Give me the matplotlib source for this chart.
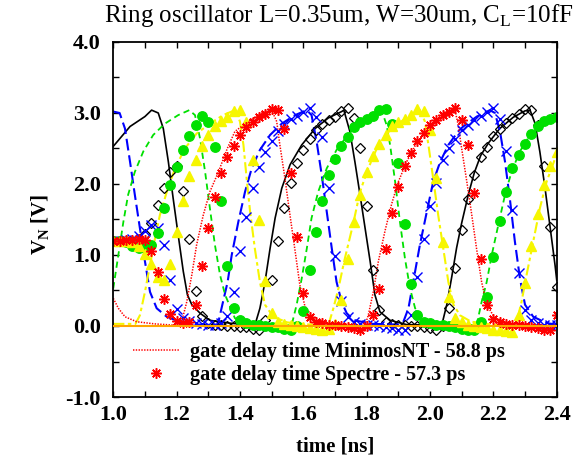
import numpy as np
import matplotlib
matplotlib.use("Agg")
import matplotlib.pyplot as plt
from matplotlib.ticker import MultipleLocator, FormatStrFormatter
from matplotlib.legend_handler import HandlerLine2D

# MinimosNT node voltages (lines)
black_t = [1.000, 1.053, 1.100, 1.121, 1.142, 1.158, 1.174, 1.189, 1.205, 1.221, 1.234, 1.248, 1.274, 1.305,
           1.368, 1.420, 1.447, 1.463, 1.479, 1.495, 1.511, 1.532, 1.558, 1.595, 1.637, 1.679, 1.721, 1.728,
           1.747, 1.763, 1.779, 1.795, 1.811, 1.826, 1.842, 1.874, 1.926, 2.037, 2.053, 2.069, 2.084, 2.100,
           2.121, 2.140, 2.160, 2.185, 2.220, 2.263, 2.300, 2.316, 2.332, 2.347, 2.363, 2.379, 2.395, 2.400]
black_v = [2.53, 2.81, 2.95, 3.04, 3.00, 2.78, 2.31, 1.80, 1.28, 0.77, 0.44, 0.30, 0.18, 0.08,
           0.04, 0.02, 0.01, 0.25, 0.62, 1.09, 1.52, 1.94, 2.27, 2.55, 2.78, 2.93, 3.02, 3.04,
           2.74, 2.31, 1.85, 1.38, 0.91, 0.44, 0.20, 0.08, 0.02, 0.01, 0.30, 0.70, 1.10, 1.45,
           1.85, 2.16, 2.40, 2.58, 2.78, 2.94, 3.03, 3.04, 2.85, 2.45, 1.95, 1.40, 0.85, 0.65]

blue_t = [1.000, 1.020, 1.037, 1.053, 1.068, 1.084, 1.100, 1.116, 1.137, 1.169, 1.211, 1.270, 1.330, 1.347,
          1.361, 1.374, 1.395, 1.416, 1.437, 1.463, 1.495, 1.532, 1.574, 1.611, 1.626, 1.642, 1.658, 1.674,
          1.690, 1.705, 1.721, 1.737, 1.760, 1.820, 1.905, 1.916, 1.932, 1.947, 1.968, 1.990, 2.010, 2.032,
          2.058, 2.089, 2.105, 2.148, 2.189, 2.205, 2.221, 2.237, 2.253, 2.268, 2.284, 2.300, 2.326, 2.369, 2.400]
blue_v = [3.02, 3.00, 2.78, 2.31, 1.85, 1.38, 0.91, 0.48, 0.25, 0.13, 0.06, 0.02, 0.02, 0.35,
          0.62, 1.00, 1.47, 1.89, 2.22, 2.48, 2.69, 2.85, 2.97, 3.04, 2.97, 2.60, 2.13, 1.61,
          1.09, 0.62, 0.34, 0.18, 0.08, 0.03, 0.02, 0.06, 0.25, 0.62, 1.14, 1.61, 2.03, 2.31,
          2.55, 2.74, 2.81, 2.95, 3.04, 3.00, 2.74, 2.31, 1.76, 1.19, 0.67, 0.30, 0.13, 0.04, 0.02]

green_t = [1.000, 1.016, 1.032, 1.047, 1.068, 1.095, 1.126, 1.163, 1.205, 1.240, 1.258, 1.274, 1.290, 1.305,
           1.321, 1.337, 1.353, 1.368, 1.384, 1.416, 1.500, 1.563, 1.579, 1.595, 1.611, 1.626, 1.647, 1.674,
           1.705, 1.732, 1.779, 1.816, 1.847, 1.863, 1.874, 1.890, 1.905, 1.921, 1.937, 1.953, 1.979, 2.030,
           2.100, 2.147, 2.163, 2.179, 2.195, 2.216, 2.237, 2.258, 2.284, 2.316, 2.353, 2.400]
green_v = [0.53, 1.00, 1.47, 1.85, 2.17, 2.46, 2.69, 2.85, 2.97, 3.04, 2.97, 2.64, 2.17, 1.66,
           1.14, 0.72, 0.44, 0.28, 0.11, 0.04, 0.02, 0.01, 0.30, 0.67, 1.09, 1.52, 1.89, 2.22,
           2.48, 2.64, 2.88, 2.97, 3.04, 2.83, 2.55, 2.03, 1.47, 0.95, 0.53, 0.25, 0.11, 0.04,
           0.02, 0.01, 0.34, 0.62, 1.00, 1.43, 1.85, 2.18, 2.46, 2.69, 2.85, 2.96]

yellow_t = [1.000, 1.070, 1.084, 1.100, 1.116, 1.132, 1.147, 1.169, 1.195, 1.226, 1.263, 1.305, 1.347, 1.384,
            1.400, 1.411, 1.421, 1.432, 1.447, 1.463, 1.479, 1.505, 1.550, 1.620, 1.679, 1.695, 1.711, 1.729,
            1.758, 1.779, 1.805, 1.832, 1.863, 1.900, 1.937, 1.968, 1.984, 1.995, 2.010, 2.026, 2.042, 2.058,
            2.074, 2.095, 2.130, 2.200, 2.260, 2.274, 2.289, 2.305, 2.326, 2.347, 2.368, 2.400]
yellow_v = [0.03, 0.03, 0.15, 0.48, 0.86, 1.24, 1.56, 1.89, 2.22, 2.50, 2.71, 2.85, 2.97, 3.04,
            2.88, 2.55, 2.08, 1.61, 1.09, 0.62, 0.30, 0.13, 0.05, 0.02, 0.01, 0.25, 0.53, 0.91,
            1.45, 1.89, 2.22, 2.50, 2.71, 2.85, 2.97, 3.04, 2.88, 2.55, 2.08, 1.56, 1.09, 0.62,
            0.30, 0.15, 0.06, 0.02, 0.01, 0.06, 0.34, 0.72, 1.19, 1.66, 2.03, 2.42]

red_t = [1.000, 1.016, 1.037, 1.074, 1.130, 1.200, 1.216, 1.232, 1.248, 1.263, 1.284, 1.305, 1.332, 1.360,
         1.384, 1.426, 1.469, 1.500, 1.516, 1.526, 1.542, 1.558, 1.574, 1.589, 1.605, 1.632, 1.680, 1.750,
         1.795, 1.805, 1.821, 1.837, 1.858, 1.879, 1.900, 1.926, 1.958, 1.995, 2.032, 2.079, 2.089, 2.100,
         2.116, 2.132, 2.147, 2.163, 2.179, 2.205, 2.250, 2.400]
red_v = [0.39, 0.25, 0.13, 0.06, 0.03, 0.01, 0.06, 0.34, 0.72, 1.14, 1.56, 1.89, 2.17, 2.50,
         2.74, 2.88, 3.00, 3.04, 2.88, 2.55, 2.08, 1.56, 1.06, 0.58, 0.28, 0.11, 0.04, 0.02,
         0.01, 0.15, 0.48, 0.91, 1.34, 1.72, 2.03, 2.31, 2.58, 2.78, 2.90, 3.04, 2.83, 2.50,
         2.04, 1.56, 1.09, 0.62, 0.30, 0.11, 0.04, 0.01]

orange_t = [1.0, 2.4]
orange_v = [0.0, 0.0]

# Spectre node voltages (markers), one sample every 20 ps
t_spectre = [1.00, 1.02, 1.04, 1.06, 1.08, 1.10, 1.12, 1.14, 1.16, 1.18,
             1.20, 1.22, 1.24, 1.26, 1.28, 1.30, 1.32, 1.34, 1.36, 1.38,
             1.40, 1.42, 1.44, 1.46, 1.48, 1.50, 1.52, 1.54, 1.56, 1.58,
             1.60, 1.62, 1.64, 1.66, 1.68, 1.70, 1.72, 1.74, 1.76, 1.78,
             1.80, 1.82, 1.84, 1.86, 1.88, 1.90, 1.92, 1.94, 1.96, 1.98,
             2.00, 2.02, 2.04, 2.06, 2.08, 2.10, 2.12, 2.14, 2.16, 2.18,
             2.20, 2.22, 2.24, 2.26, 2.28, 2.30, 2.32, 2.34, 2.36, 2.38,
             2.40]
black_s = [1.20, 1.20, 1.20, 1.20, 1.22, 1.30, 1.45, 1.70, 1.95, 2.17,
           2.26, 1.90, 1.22, 0.49, 0.14, 0.04, 0.02, 0.01, 0.00, 0.00,
           -0.01, -0.02, -0.04, -0.05, 0.09, 0.65, 1.20, 1.66, 2.02, 2.29,
           2.48, 2.64, 2.76, 2.84, 2.90, 2.95, 3.03, 3.07, 2.93, 2.50,
           1.69, 0.79, 0.23, 0.06, 0.03, 0.01, 0.01, 0.00, 0.00, -0.01,
           -0.03, -0.05, 0.00, 0.25, 0.82, 1.35, 1.79, 2.13, 2.38, 2.52,
           2.68, 2.78, 2.86, 2.93, 2.99, 3.06, 3.04, 2.83, 2.25, 1.40,
           0.55]
blue_s = [1.20, 1.20, 1.21, 1.22, 1.27, 1.34, 1.42, 1.38, 1.14, 0.65,
          0.24, 0.11, 0.07, 0.04, 0.03, 0.02, 0.02, 0.04, 0.14, 0.48,
          1.06, 1.54, 1.94, 2.24, 2.45, 2.60, 2.75, 2.85, 2.92, 2.96,
          3.01, 3.07, 2.95, 2.66, 1.94, 0.99, 0.35, 0.12, 0.06, 0.03,
          0.02, 0.01, 0.00, -0.01, -0.03, -0.05, -0.05, 0.15, 0.69, 1.23,
          1.69, 2.01, 2.34, 2.50, 2.64, 2.76, 2.83, 2.90, 2.96, 3.02,
          3.07, 2.92, 2.46, 1.63, 0.74, 0.23, 0.08, 0.04, 0.02, 0.02,
          0.02]
green_s = [1.20, 1.20, 1.19, 1.13, 1.10, 1.10, 1.14, 1.31, 1.66, 1.98,
           2.24, 2.48, 2.67, 2.83, 2.96, 2.88, 2.52, 1.76, 0.85, 0.26,
           0.08, 0.04, 0.02, 0.01, 0.00, -0.01, -0.02, -0.04, -0.05, 0.00,
           0.21, 0.79, 1.33, 1.76, 2.13, 2.35, 2.53, 2.66, 2.80, 2.88,
           2.92, 2.96, 3.04, 3.06, 2.84, 2.29, 1.44, 0.59, 0.15, 0.06,
           0.04, 0.02, 0.01, 0.00, -0.02, -0.04, -0.06, -0.05, 0.05, 0.41,
           0.97, 1.48, 1.89, 2.22, 2.41, 2.57, 2.70, 2.82, 2.89, 2.92,
           2.95]
yellow_s = [1.20, 1.20, 1.20, 1.18, 1.12, 1.02, 0.87, 0.69, 0.65, 0.88,
            1.32, 1.76, 2.11, 2.34, 2.54, 2.69, 2.81, 2.89, 2.94, 3.03,
            3.04, 2.87, 2.34, 1.49, 0.63, 0.18, 0.06, 0.03, 0.01, 0.00,
            -0.02, -0.03, -0.04, -0.05, -0.04, 0.03, 0.36, 0.95, 1.46, 1.85,
            2.17, 2.40, 2.56, 2.69, 2.81, 2.88, 2.92, 2.97, 3.06, 3.03,
            2.76, 2.08, 1.19, 0.41, 0.11, 0.05, 0.02, 0.00, -0.02, -0.03,
            -0.05, -0.06, -0.07, -0.08, 0.15, 0.60, 1.12, 1.58, 1.98, 2.25,
            2.45]
red_s = [1.20, 1.20, 1.21, 1.21, 1.22, 1.21, 1.06, 0.76, 0.38, 0.17,
         0.07, 0.04, 0.06, 0.30, 0.85, 1.38, 1.81, 2.16, 2.38, 2.54,
         2.69, 2.80, 2.87, 2.94, 2.98, 3.06, 3.04, 2.78, 2.15, 1.26,
         0.46, 0.13, 0.06, 0.04, 0.02, 0.01, 0.00, -0.02, -0.03, -0.05,
         0.00, 0.16, 0.52, 1.08, 1.59, 1.96, 2.26, 2.43, 2.60, 2.72,
         2.83, 2.90, 2.97, 3.02, 3.07, 2.90, 2.55, 1.88, 0.95, 0.29,
         0.10, 0.05, 0.03, 0.02, 0.01, 0.00, -0.02, -0.03, -0.05, -0.05,
         0.15]

legend_labels = ["gate delay time MinimosNT - 58.8 ps", "gate delay time Spectre - 57.3 ps"]

plt.rcParams["font.family"] = ["Liberation Serif", "DejaVu Serif"]
plt.rcParams["mathtext.fontset"] = "custom"
plt.rcParams["mathtext.rm"] = "Liberation Serif"
plt.rcParams["mathtext.bf"] = "Liberation Serif:bold"
plt.rcParams["axes.unicode_minus"] = False
plt.rcParams["lines.scale_dashes"] = False

GREEN = "#00e000"
YELLOW = "#f6f600"

fig = plt.figure(figsize=(5.8, 4.68), dpi=100)
ax = fig.add_axes([0.1953, 0.1517, 0.7645, 0.7586])

# lines
ax.plot(black_t, black_v, color="black", lw=1.2, ls="-")
ax.plot(blue_t, blue_v, color="blue", lw=1.5, ls=(0, (8.5, 3.5)))
ax.plot(green_t, green_v, color=GREEN, lw=1.3, ls=(0, (4.5, 3)))
ax.plot(yellow_t, yellow_v, color=YELLOW, lw=1.5, ls=(0, (8, 2.5, 2.5, 2.5)))
mnt, = ax.plot(red_t, red_v, color="red", lw=1.1, ls=(0, (1, 1)))

# markers
ax.plot(t_spectre, black_s, ls="none", marker="D", ms=5.5, mfc="none", mec="black", mew=0.9)
ax.plot(t_spectre, blue_s, ls="none", marker="x", ms=6.5, mec="blue", mew=1.0)
ax.plot(t_spectre, green_s, ls="none", marker="o", ms=6.8, mfc=GREEN, mec=GREEN)
ax.plot(t_spectre, yellow_s, ls="none", marker="^", ms=7.5, mfc=YELLOW, mec=YELLOW)
spc, = ax.plot(t_spectre, red_s, ls="none", marker=(8, 2, 0), ms=7.5, mec="red", mew=1.1)

ax.plot(orange_t, orange_v, color="orange", lw=1.5, zorder=5)

ax.set_xlim(1.0, 2.4)
ax.set_ylim(-1.0, 4.0)
ax.xaxis.set_major_locator(MultipleLocator(0.2))
ax.xaxis.set_minor_locator(MultipleLocator(0.1))
ax.yaxis.set_major_locator(MultipleLocator(1.0))
ax.yaxis.set_minor_locator(MultipleLocator(0.5))
ax.xaxis.set_major_formatter(FormatStrFormatter("%.1f"))
ax.yaxis.set_major_formatter(FormatStrFormatter("%.1f"))
ax.tick_params(which="both", direction="in", top=True, right=True, length=4, width=1)
ax.tick_params(axis="x", labelsize=16, pad=6)
ax.tick_params(axis="y", labelsize=16, pad=9)
for lbl in ax.get_xticklabels() + ax.get_yticklabels():
    lbl.set_fontweight("bold")
for sp in ax.spines.values():
    sp.set_linewidth(1.3)

fig.text(0.584, 0.967, r"Ring oscillator L=0.35um, W=30um, C$_\mathrm{L}$=10fF",
         ha="center", va="center", fontsize=18)
fig.text(0.578, 0.045, "time [ns]", ha="center", va="center", fontsize=15, fontweight="bold")
fig.text(0.07, 0.52, r"V$_\mathbf{N}$ [V]", ha="center", va="center", rotation=90,
         fontsize=15, fontweight="bold")


class MarkerAtEnd(HandlerLine2D):
    def get_xdata(self, legend, xdescent, ydescent, width, height, fontsize):
        xdata, _ = super().get_xdata(legend, xdescent, ydescent, width, height, fontsize)
        return xdata, [-xdescent + 0.97 * width]


leg = ax.legend([mnt, spc], legend_labels, loc="lower left", bbox_to_anchor=(0.004, -0.018),
                frameon=False, numpoints=1, handlelength=2.3, handletextpad=0.5,
                labelspacing=0.15, prop={"family": "Liberation Serif", "weight": "bold", "size": 14.5},
                handler_map={spc: MarkerAtEnd(numpoints=1)})

fig.savefig("out.png", dpi=100)
